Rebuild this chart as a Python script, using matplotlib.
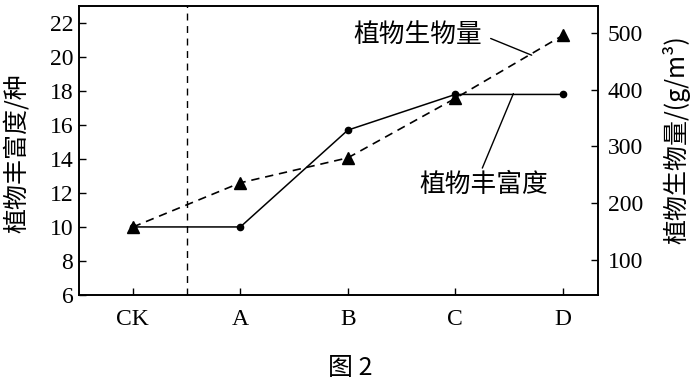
import matplotlib.pyplot as plt

categories = ["CK", "A", "B", "C", "D"]
richness = [10, 10, 15.7, 17.8, 17.8]
biomass = [158, 236, 280, 385, 496]

cjk = ["Noto Sans CJK SC", "DejaVu Sans"]
serif = ["Liberation Serif", "DejaVu Serif"]

fig = plt.figure(figsize=(6.92, 3.81), dpi=100)
ax = fig.add_axes([0.114, 0.226, 0.75, 0.758])
ax2 = ax.twinx()

x = list(range(len(categories)))
ax.plot(x, richness, color="black", lw=1.1, marker="o", ms=4.5)
ax2.plot(x, biomass, color="black", lw=1.2, ls=(0, (5, 3.5)), marker="^", ms=8.5)
ax.axvline(0.5, color="black", lw=1.0, ls=(0, (5, 4)))

ax.set_xlim(-0.502, 4.326)
ax.set_ylim(6, 23)
ax2.set_ylim(38.3, 547.6)

ax.set_xticks(x)
ax.set_xticklabels(categories, fontfamily=serif, fontsize=17)
ax.set_yticks(range(6, 23, 2))
ax.tick_params(axis="both", direction="in", length=5, width=1, labelsize=17, pad=4)
ax.tick_params(axis="x", pad=10)
for lab in ax.get_yticklabels():
    lab.set_fontfamily(serif)
ax2.set_yticks([100, 200, 300, 400, 500])
ax2.tick_params(axis="y", direction="in", length=5, width=1, labelsize=17, pad=7)
for lab in ax2.get_yticklabels():
    lab.set_fontfamily(serif)

for a in (ax, ax2):
    for s in a.spines.values():
        s.set_linewidth(1.2)

# annotations with leader lines
ax2.annotate("植物生物量", xy=(3.71, 461), xytext=(2.047, 496),
             fontfamily=cjk, fontsize=18.5, va="center", ha="left",
             arrowprops=dict(arrowstyle="-", color="black", lw=1,
                             shrinkA=0, shrinkB=0,
                             relpos=(1.07, 0.38)))
ax.annotate("植物丰富度", xy=(3.54, 17.85), xytext=(2.67, 12.47),
            fontfamily=cjk, fontsize=18.5, va="center", ha="left",
            arrowprops=dict(arrowstyle="-", color="black", lw=1,
                            shrinkA=0, shrinkB=0,
                            relpos=(0.485, 1.15)))

fig.text(0.025, 0.598, "植物丰富度/种", rotation=90, ha="center", va="center",
         fontfamily=cjk, fontsize=18)
fig.text(0.978, 0.633, "植物生物量/(g/m³)", rotation=90, ha="center", va="center",
         fontfamily=cjk, fontsize=18)
fig.text(0.506, 0.034, "图 2", ha="center", va="center",
         fontfamily=cjk, fontsize=18)

fig.savefig("out.png", dpi=100)
